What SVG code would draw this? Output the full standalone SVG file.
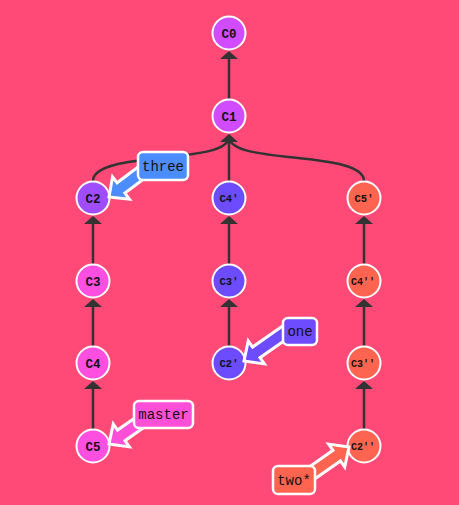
<svg xmlns="http://www.w3.org/2000/svg" width="459" height="505" viewBox="0 0 459 505">
<style>
.bg{fill:#ff4a78}
.edge{stroke:#333;stroke-width:2.5;fill:none}
.head{fill:#333}
.node circle{stroke:#fff;stroke-width:2}
.nt{font-family:"Liberation Mono",monospace;font-weight:bold;fill:#111;text-anchor:middle}
.lbl rect{stroke:#fff;stroke-width:2.5}
.lbl .ar{stroke:#fff;stroke-width:3;stroke-linejoin:miter}
.lt{font-family:"Liberation Mono",monospace;font-size:14px;fill:#111;text-anchor:middle}
.c01{fill:#d14cff}.c2{fill:#a04cff}.cm{fill:#ff4fe0}.cp{fill:#6d4bff}.co{fill:#ff6450}
</style>
<defs>
<path id="ah" d="M0,0 L-9,8 L9,8 Z"/>
<path id="la" d="M0,0 L-15,-14 L-15,-6.5 L-52,-6.5 L-52,6.5 L-15,6.5 L-15,14 Z"/>
</defs>
<rect class="bg" x="0" y="0" width="459" height="505"/>
<g id="connectors">
<line class="edge" x1="229" y1="99" x2="229" y2="54"/><use href="#ah" class="head" x="229" y="51"/>
<path class="edge" d="M93,181 C93,150 229,165 229,137"/>
<line class="edge" x1="229" y1="181" x2="229" y2="137"/>
<path class="edge" d="M364,181 C364,150 229,165 229,137"/>
<use href="#ah" class="head" x="229" y="134"/>
<line class="edge" x1="93" y1="264" x2="93" y2="219"/><use href="#ah" class="head" x="93" y="216"/>
<line class="edge" x1="93" y1="346" x2="93" y2="302"/><use href="#ah" class="head" x="93" y="299"/>
<line class="edge" x1="93" y1="429" x2="93" y2="384"/><use href="#ah" class="head" x="93" y="381"/>
<line class="edge" x1="229" y1="264" x2="229" y2="219"/><use href="#ah" class="head" x="229" y="216"/>
<line class="edge" x1="229" y1="346" x2="229" y2="302"/><use href="#ah" class="head" x="229" y="299"/>
<line class="edge" x1="364" y1="264" x2="364" y2="219"/><use href="#ah" class="head" x="364" y="216"/>
<line class="edge" x1="364" y1="346" x2="364" y2="302"/><use href="#ah" class="head" x="364" y="299"/>
<line class="edge" x1="364" y1="429" x2="364" y2="384"/><use href="#ah" class="head" x="364" y="381"/>
</g>
<g id="C0" class="node"><circle class="c01" cx="229" cy="33" r="16.5"/><text class="nt" x="229" y="37.5" font-size="12.5">C0</text></g>
<g id="C1" class="node"><circle class="c01" cx="229" cy="116" r="16.5"/><text class="nt" x="229" y="120.5" font-size="12.5">C1</text></g>
<g id="C2" class="node"><circle class="c2" cx="93" cy="198" r="16.5"/><text class="nt" x="93" y="202.5" font-size="12.5">C2</text></g>
<g id="C3" class="node"><circle class="cm" cx="93" cy="281" r="16.5"/><text class="nt" x="93" y="285.5" font-size="12.5">C3</text></g>
<g id="C4" class="node"><circle class="cm" cx="93" cy="363" r="16.5"/><text class="nt" x="93" y="367.5" font-size="12.5">C4</text></g>
<g id="C5" class="node"><circle class="cm" cx="93" cy="446" r="16.5"/><text class="nt" x="93" y="450.5" font-size="12.5">C5</text></g>
<g id="C4p" class="node"><circle class="cp" cx="229" cy="198" r="16.5"/><text class="nt" x="229" y="202" font-size="10.5">C4'</text></g>
<g id="C3p" class="node"><circle class="cp" cx="229" cy="281" r="16.5"/><text class="nt" x="229" y="285" font-size="10.5">C3'</text></g>
<g id="C2p" class="node"><circle class="cp" cx="229" cy="363" r="16.5"/><text class="nt" x="229" y="367" font-size="10.5">C2'</text></g>
<g id="C5p" class="node"><circle class="co" cx="364" cy="198" r="16.5"/><text class="nt" x="364" y="202" font-size="10.5">C5'</text></g>
<g id="C4pp" class="node"><circle class="co" cx="364" cy="281" r="16.5"/><text class="nt" x="363" y="284.5" font-size="10">C4''</text></g>
<g id="C3pp" class="node"><circle class="co" cx="364" cy="363" r="16.5"/><text class="nt" x="363" y="366.5" font-size="10">C3''</text></g>
<g id="C2pp" class="node"><circle class="co" cx="364" cy="446" r="16.5"/><text class="nt" x="363" y="449.5" font-size="10">C2''</text></g>
<g id="three" class="lbl">
<use href="#la" class="ar" fill="#4b8cff" transform="translate(109,197) rotate(143)"/>
<rect x="138" y="152" width="50" height="28" rx="5" fill="#4b8cff"/>
<text class="lt" x="163" y="171">three</text>
</g>
<g id="master" class="lbl">
<use href="#la" class="ar" fill="#ff4fd8" transform="translate(109,444) rotate(145)"/>
<rect x="134" y="401" width="59" height="27" rx="5" fill="#ff4fd8"/>
<text class="lt" x="163.5" y="419">master</text>
</g>
<g id="one" class="lbl">
<use href="#la" class="ar" fill="#6d4bff" transform="translate(244,361) rotate(145)"/>
<rect x="283" y="318" width="34" height="27" rx="5" fill="#6d4bff"/>
<text class="lt" x="300" y="336">one</text>
</g>
<g id="two" class="lbl">
<use href="#la" class="ar" fill="#ff6450" transform="translate(349,447) rotate(-35)"/>
<rect x="273" y="466" width="42" height="28" rx="5" fill="#ff6450"/>
<text class="lt" x="294" y="485">two*</text>
</g>
</svg>
